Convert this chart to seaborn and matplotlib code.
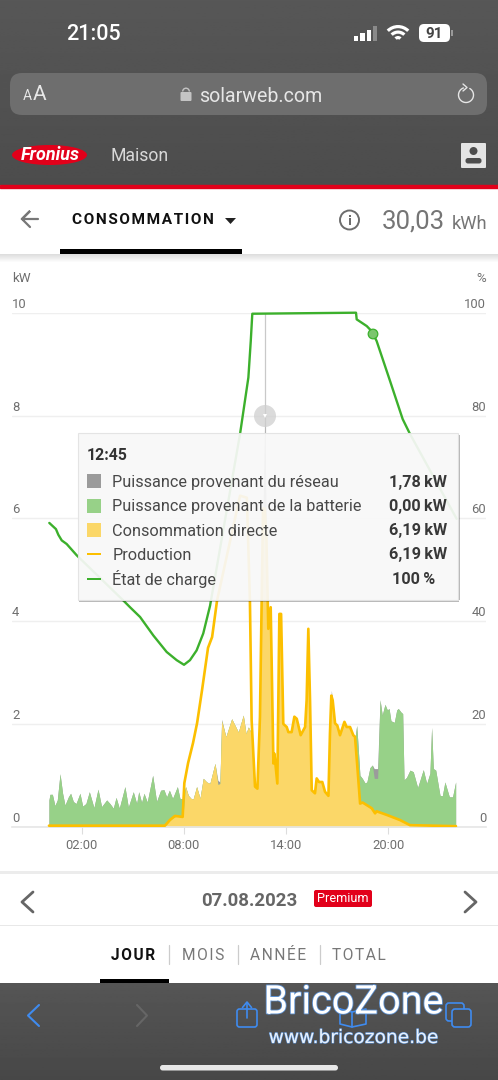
import numpy as np
import pandas as pd
import matplotlib
matplotlib.use("Agg")
import matplotlib.pyplot as plt
import matplotlib.patheffects as pe
from matplotlib.patches import Rectangle, FancyBboxPatch, Circle, Ellipse, Polygon, Wedge
from matplotlib.transforms import ScaledTranslation
import seaborn as sns

# Load profile, one block per part of the day (hours, kW)
night_hours = [0.08,0.14,0.28,0.43,0.57,0.73,0.88,1.02,1.22,1.35,1.51,1.67,1.90,2.06,2.25,2.45,2.72,2.96,3.17,3.47,3.66,3.86,4.02,4.21,4.54,4.74,5.03,5.23,5.35,5.52,5.66,5.85,6.17,6.40,6.64,6.83]
night_load = [0.52,0.63,0.63,0.41,0.52,1.03,0.65,0.42,0.58,0.65,0.49,0.45,0.65,0.40,0.45,0.68,0.37,0.73,0.39,0.52,0.45,0.36,0.57,0.36,0.78,0.38,0.68,0.45,0.68,0.47,0.65,0.48,1.00,0.49,0.71,0.72]

dawn_hours = [6.99,7.15,7.34,7.62,7.77,7.95]
dawn_load = [0.58,0.71,0.55,0.78,0.55,0.54]
dawn_direct = [0.05,0.11,0.17,0.21,0.20,0.22]

day_hours = [8.10,8.26,8.42,8.55,8.75,8.95,9.14,9.34,9.53,9.83,10.00,10.12,10.22,10.47,10.81,11.20,11.49,11.65,11.79,11.93,11.98,12.18,12.32,12.47,12.57,12.65,12.75,12.85,12.96,13.10,13.26,13.32,13.49,13.61,13.71,13.84,14.04,14.14,14.33,14.49,14.63,14.86,15.12,15.21,15.31,15.41,15.51,15.70,15.80,15.94,16.13,16.29,16.49,16.58,16.66,16.74,16.88,17.01,17.17,17.43,17.56,17.76,17.95,18.05]
day_load = [0.78,0.61,0.55,0.54,0.78,0.55,0.94,0.87,0.84,1.23,0.90,0.87,2.09,1.75,2.10,1.84,2.17,1.81,1.94,1.84,2.07,0.78,0.74,2.14,4.40,6.19,7.97,5.60,3.85,4.27,1.23,1.42,0.84,4.14,4.14,2.00,1.94,1.84,1.84,2.14,2.10,1.78,1.94,2.46,3.85,2.46,0.71,0.65,0.94,0.87,0.87,0.68,0.60,1.81,2.65,2.46,2.01,1.97,1.78,2.04,1.94,1.94,1.78,1.72]
day_grid = [0.0]*10 + [0.08,0.03,0.03] + [0.0]*13 + [1.78] + [0.0]*27 + [0.10] + [0.0]*9

evening_hours = [18.15,18.21,18.34,18.48,18.64,18.75,18.93,19.07,19.18,19.38,19.52,19.65,19.81,19.95,20.05,20.16,20.36,20.50,20.59,20.75,20.85,20.93,21.08,21.28,21.47,21.73,22.06,22.26,22.45,22.55,22.65,22.79,23.04,23.18,23.33,23.59,23.78,23.96]
evening_load = [1.97,1.68,1.00,0.94,0.85,0.87,1.15,1.20,1.13,1.13,2.47,2.17,2.38,2.27,2.30,2.06,2.03,2.27,2.30,2.23,2.20,0.91,0.96,1.10,1.07,0.76,1.11,0.84,1.04,1.93,1.13,1.10,0.61,0.60,0.87,0.58,0.58,0.87]
evening_direct = [1.45,1.05,0.47,0.47,0.43,0.41,0.38,0.35,0.28,0.29,0.28,0.27,0.25,0.23,0.21,0.20,0.17,0.15,0.14,0.12,0.10,0.09,0.06,0.03,0.01,0.01,0.01,0.01,0.01,0.01,0.01,0.01,0.01,0.01,0.01,0.01,0.01,0.01]
evening_grid = [0.0]*8 + [0.19,0.19] + [0.0]*28

# PV production (kW)
prod_hours = [0.08,6.89,7.18,7.48,7.93,8.03,8.25,8.54,8.78,9.07,9.42,9.66,9.95,11.30,11.70,11.88,11.98,12.18,12.32,12.47,12.57,12.65,12.75,12.85,12.96,13.10,13.26,13.32,13.49,13.61,13.71,13.84,14.04,14.14,14.33,14.49,14.63,14.86,15.12,15.21,15.31,15.41,15.51,15.70,15.80,15.94,16.13,16.29,16.49,16.58,16.66,16.74,16.88,17.01,17.17,17.43,17.56,17.76,17.95,18.05,18.19,18.35,18.50,19.03,19.23,19.32,19.91,20.69,21.28,23.98]
prod_kw = [0.02,0.02,0.13,0.21,0.19,0.85,1.24,1.63,2.02,2.66,3.48,3.69,4.40,6.44,6.40,4.40,2.07,0.78,0.74,2.14,4.40,6.19,6.19,5.60,3.85,4.27,1.23,1.42,0.84,4.14,4.14,2.00,1.94,1.84,1.84,2.14,2.10,1.78,1.94,2.46,3.85,2.46,0.71,0.65,0.94,0.87,0.87,0.68,0.60,1.81,2.55,2.46,2.01,1.97,1.78,2.04,1.94,1.94,1.78,1.75,1.16,0.45,0.47,0.36,0.26,0.30,0.23,0.13,0.03,0.01]

# Battery state of charge (%)
soc_hours = [0.10,0.49,0.63,0.83,1.12,1.71,4.45,4.84,5.43,6.21,6.99,7.58,8.01,8.36,8.75,9.14,9.54,11.30,11.79,11.93,12.02,18.11,18.15,18.74,19.03,19.32,20.10,20.85,21.28,24.02]
soc_pct = [59.1,57.9,56.8,55.7,55.0,52.8,44.0,42.7,40.8,37.2,34.0,32.4,31.5,32.4,34.3,37.6,43.0,76.4,87.4,94.5,99.8,100,98.7,97.4,96.4,94.5,86.8,79.3,76.4,59.9]

# Tooltip and axis labels
tick_hours = [2, 8, 14, 20]
tick_names = ["02:00", "08:00", "14:00", "20:00"]
kw_ticks = [0, 2, 4, 6, 8, 10]
pct_ticks = [0, 20, 40, 60, 80, 100]
tip_time = "12:45"
tip_hour = 12.75
tip_names = ["Puissance provenant du réseau", "Puissance provenant de la batterie", "Consommation directe", "Production", "État de charge"]
tip_values = ["1,78 kW", "0,00 kW", "6,19 kW", "6,19 kW", "100 %"]

C_GRID, C_BATT, C_DIRECT = "#9b9b9b", "#97d188", "#fbd768"
C_PROD, C_SOC = "#fcbf00", "#3cb02c"
C_TEXT = "#6f6f6f"

sns.set_theme(style="white")
plt.rcParams["font.family"] = ["Roboto", "DejaVu Sans"]

W, H = 498, 1080
fig = plt.figure(figsize=(W / 100, H / 100), dpi=100, facecolor="white")


def px_axes(z):
    a = fig.add_axes([0, 0, 1, 1], zorder=z)
    a.set_xlim(0, W)
    a.set_ylim(H, 0)
    a.axis("off")
    a.patch.set_alpha(0)
    return a


bg = px_axes(0)
top = px_axes(5)

# Page chrome under the chart
bg.imshow(np.linspace(0.34, 0.30, 64).reshape(-1, 1), extent=[0, W, 185, 0], cmap="gray", vmin=0, vmax=1, aspect="auto")
bg.imshow(np.linspace(0.335, 0.28, 64).reshape(-1, 1), extent=[0, W, 1080, 983], cmap="gray", vmin=0, vmax=1, aspect="auto")
bg.set_xlim(0, W)
bg.set_ylim(H, 0)
bg.add_patch(Rectangle((0, 185), W, 2.5, color="#e2001a"))
bg.add_patch(FancyBboxPatch((10, 73), 477, 42, boxstyle="round,pad=0,rounding_size=12", fc="#6e6e6e", ec="none"))
for i, yy in enumerate(np.arange(254, 262)):
    bg.add_patch(Rectangle((0, yy), W, 1, color="#000000", alpha=0.13 * (1 - i / 8), lw=0))

bg.text(93, 35, "21:05", color="white", fontsize=15.5, fontweight="medium", ha="center", va="center")
for i, hh in enumerate([5, 8, 11.5, 15]):
    bg.add_patch(Rectangle((354 + i * 6.3, 41 - hh), 4.2, hh, color="white" if i < 3 else "#8a8a8a", lw=0))
for r in [5, 10.5, 16]:
    bg.add_patch(Wedge((398, 41), r, 225, 315, width=3.2, color="white", lw=0))
bg.add_patch(FancyBboxPatch((419, 24), 31, 18, boxstyle="round,pad=0,rounding_size=5", fc="white", ec="none"))
bg.add_patch(Rectangle((451, 30), 2, 6, color="#999999", lw=0))
bg.text(434.5, 34, "91", color="#444444", fontsize=11, fontweight="bold", ha="center", va="center")

bg.text(23, 96.5, "A", color="#e8e8e8", fontsize=10, ha="left", va="center")
bg.text(33, 95, "A", color="#e8e8e8", fontsize=15, ha="left", va="center")
bg.add_patch(FancyBboxPatch((180.5, 92), 11, 9, boxstyle="round,pad=0,rounding_size=1", fc="#c4c4c4", ec="none"))
bg.add_patch(Wedge((186, 91.5), 4, 180, 360, width=1.4, color="#c4c4c4", lw=0))
bg.text(199, 96, "solarweb.com", color="#e6e6e6", fontsize=14.1, ha="left", va="center")
theta = np.radians(np.linspace(-60, 250, 50))
bg.plot(466 + 7.5 * np.cos(theta), 95 + 7.5 * np.sin(theta), color="#e6e6e6", lw=1)
bg.plot([463, 467, 463], [84, 87.5, 91], color="#e6e6e6", lw=1)

bg.add_patch(Ellipse((49.5, 155), 75, 20, color="#e2001a", lw=0))
bg.text(50, 155.5, "Fronius", color="white", fontsize=13, style="italic", fontweight="bold", ha="center", va="center")
bg.text(110, 156, "Maison", color="#d8d8d8", fontsize=12.7, ha="left", va="center")
bg.add_patch(FancyBboxPatch((461, 143), 25, 25, boxstyle="round,pad=0,rounding_size=1", fc="#e4e4e4", ec="none"))
bg.add_patch(Circle((473.5, 151), 4, color="#4d4d4d", lw=0))
bg.add_patch(FancyBboxPatch((465.5, 158), 16, 5.5, boxstyle="round,pad=0,rounding_size=2.5", fc="#4d4d4d", ec="none"))

bg.plot([38, 22, 30, 22, 30], [219, 219, 211, 219, 227], color="#777777", lw=1.6, solid_joinstyle="miter")
bg.text(72, 220.5, "\u200a".join("CONSOMMATION"), color="#111111", fontsize=11.1, fontweight="bold", ha="left", va="center")
bg.add_patch(Polygon([[225, 218], [236, 218], [230.5, 224]], color="#222222", lw=0))
bg.add_patch(Rectangle((60, 249), 182, 5, color="black", lw=0))
bg.add_patch(Circle((349.5, 220), 9.5, fc="none", ec="#6d6d6d", lw=1.4))
bg.add_patch(Rectangle((348.5, 218), 2.2, 7, color="#6d6d6d", lw=0))
bg.add_patch(Rectangle((348.5, 214.5), 2.2, 2, color="#6d6d6d", lw=0))
bg.text(382, 222, "30,03", color="#757575", fontsize=18.5, ha="left", va="center")
bg.text(452, 224, "kWh", color="#757575", fontsize=13.2, ha="left", va="center")
bg.text(12, 278.5, "kW", color=C_TEXT, fontsize=9.6, ha="left", va="center")
bg.text(486, 278.5, "%", color=C_TEXT, fontsize=9.6, ha="right", va="center")

# Date and period selectors
bg.add_patch(Rectangle((0, 871), W, 2.5, color="#ececec", lw=0))
bg.add_patch(Rectangle((0, 925), W, 1.2, color="#e8e8e8", lw=0))
bg.plot([33, 22, 33], [892, 902, 912], color="#666666", lw=2)
bg.plot([465, 476, 465], [892, 902, 912], color="#666666", lw=2)
bg.text(249, 901.5, "07.08.2023", color="#666666", fontsize=13.4, fontweight="bold", ha="center", va="center")
bg.add_patch(FancyBboxPatch((314, 890), 58, 17, boxstyle="round,pad=0,rounding_size=2", fc="#e2001a", ec="none"))
bg.text(343, 898.5, "Premium", color="white", fontsize=9.2, ha="center", va="center")
for x0, label, col, wt in [(133.5, "JOUR", "#111111", "bold"), (203.5, "MOIS", "#777777", "normal"), (278, "ANNÉE", "#777777", "normal"), (358.5, "TOTAL", "#777777", "normal")]:
    bg.text(x0, 955.5, "\u200a".join(label), color=col, fontsize=11.2, fontweight=wt, ha="center", va="center")
for xx in [169, 237.5, 319.5]:
    bg.plot([xx, xx], [945, 964], color="#cccccc", lw=0.9)
bg.add_patch(Rectangle((99.5, 979), 69, 4, color="black", lw=0))

# Browser toolbar
blue = "#3f8bef"
bg.plot([39, 28, 39], [1005, 1015.5, 1026], color=blue, lw=1.5)
bg.plot([137, 147, 137], [1005, 1015.5, 1026], color="#666666", lw=1.5)
bg.add_patch(FancyBboxPatch((237, 1009), 20, 18, boxstyle="round,pad=0,rounding_size=2.5", fc="none", ec=blue, lw=1.2))
bg.plot([247, 247], [1003, 1018], color=blue, lw=1.2)
bg.plot([242.5, 247, 251.5], [1007.5, 1002, 1007.5], color=blue, lw=1.2)
bg.plot([340, 340, 352, 366, 366, 352, 340], [1009, 1024, 1027, 1024, 1009, 1012, 1009], color=blue, lw=1.2)
bg.plot([352, 352], [1012, 1027], color=blue, lw=1.2)
bg.add_patch(FancyBboxPatch((446, 1003), 18, 18, boxstyle="round,pad=0,rounding_size=3", fc="none", ec=blue, lw=1.2))
bg.add_patch(FancyBboxPatch((452, 1009), 19, 18, boxstyle="round,pad=0,rounding_size=3", fc="#4c4c4c", ec=blue, lw=1.2))
bg.add_patch(FancyBboxPatch((160, 1065), 178, 5.5, boxstyle="round,pad=0,rounding_size=2.7", fc="#e8e8e8", ec="none"))

# Chart area: 0–10 kW on the left, 0–100 % on the right
x_left = (12 - 47.6) / 17.03
x_right = (486 - 47.6) / 17.03
ax = fig.add_axes([12 / W, 1 - 826.7 / H, 474 / W, 514 / H], zorder=2)
ax.patch.set_alpha(0)

hours = np.array(night_hours + dawn_hours + day_hours + evening_hours)
load = np.array(night_load + dawn_load + day_load + evening_load)
grid = np.array([0.0] * len(night_hours + dawn_hours) + day_grid + evening_grid)
direct = np.concatenate([np.zeros(len(night_hours)), dawn_direct, np.array(day_load) - np.array(day_grid), evening_direct])
to_battery = load - grid

ax.axvline(tip_hour, color="#c9c9c9", lw=0.9, zorder=1.5)
ax.fill_between(hours, 0, load, color=C_GRID, lw=0, zorder=2)
ax.fill_between(hours, 0, to_battery, color=C_BATT, lw=0, zorder=2.1)
ax.fill_between(hours, 0, direct, color=C_DIRECT, lw=0, zorder=2.2)

prod_df = pd.DataFrame({"heure": prod_hours, "kW": prod_kw})
sns.lineplot(data=prod_df, x="heure", y="kW", ax=ax, color=C_PROD, lw=1.9, estimator=None, zorder=3)

ax.set_xlim(x_left, x_right)
ax.set_ylim(0, 10)
ax.set_xticks(tick_hours, tick_names)
ax.set_yticks(kw_ticks, [str(v) for v in kw_ticks])
ax.set_xlabel("")
ax.set_ylabel("")
ax.grid(axis="y", color="#efefef", lw=1)
ax.set_axisbelow(True)
for s in ["top", "left", "right"]:
    ax.spines[s].set_visible(False)
ax.spines["bottom"].set_color("#e6e6e6")
ax.spines["bottom"].set_linewidth(1.2)
ax.tick_params(axis="x", length=5, width=0.8, color="#dddddd", labelcolor=C_TEXT, labelsize=9.4, pad=3.5, bottom=True)
ax.tick_params(axis="y", length=0, labelcolor=C_TEXT, labelsize=9.4, pad=0)

# Value labels sit just above their gridline
lift = ScaledTranslation(0, 2 / 100, fig.dpi_scale_trans)
for lab in ax.get_yticklabels():
    lab.set_horizontalalignment("left")
    lab.set_verticalalignment("bottom")
    lab.set_transform(lab.get_transform() + lift)

twin = ax.twinx()
twin.set_zorder(3)
twin.patch.set_alpha(0)
soc_df = pd.DataFrame({"heure": soc_hours, "pct": soc_pct})
sns.lineplot(data=soc_df, x="heure", y="pct", ax=twin, color=C_SOC, lw=1.7, estimator=None, clip_on=False)
twin.set_ylim(0, 100)
twin.set_yticks(pct_ticks, [str(v) for v in pct_ticks])
twin.set_ylabel("")
twin.grid(False)
for s in twin.spines.values():
    s.set_visible(False)
twin.tick_params(axis="y", length=0, labelcolor=C_TEXT, labelsize=9.4, pad=0)
for lab in twin.get_yticklabels():
    lab.set_horizontalalignment("right")
    lab.set_verticalalignment("bottom")
    lab.set_transform(lab.get_transform() + lift)

# Hover markers on the curves
top.add_patch(Circle((265.0, 416), 11, fc="#cfcfcf", ec="none", alpha=0.75))
top.add_patch(Polygon([[263, 414], [267, 414], [265, 418]], color="white", lw=0))
top.add_patch(Circle((373, 334), 4.8, fc="#7cc66e", ec=C_SOC, lw=0.9))

# Tooltip
top.add_patch(Rectangle((79, 600), 380, 2.2, color="#000000", alpha=0.28, lw=0))
top.add_patch(Rectangle((458, 435), 1.8, 165, color="#000000", alpha=0.28, lw=0))
top.add_patch(Rectangle((78, 433), 380, 167, fc="#f8f8f8", ec="#e3e3e3", lw=0.8, alpha=0.93))
top.text(87, 455, tip_time, color="#333333", fontsize=11.4, fontweight="bold", ha="left", va="center")
rows_y = [481, 505.5, 530, 554, 578.5]
for i, (name, val, yy) in enumerate(zip(tip_names, tip_values, rows_y)):
    top.text(112.5, yy + 1, name, color="#484848", fontsize=11.7, ha="left", va="center")
    xr = 447 if i < 4 else 435.5
    top.text(xr, yy + 1, val.replace(" ", "\u2009"), color="#383838", fontsize=11.7, fontweight="bold", ha="right", va="center")
for yy, col in zip(rows_y[:3], [C_GRID, C_BATT, C_DIRECT]):
    top.add_patch(Rectangle((87, yy - 7), 14, 14, color=col, lw=0))
top.add_patch(Rectangle((87, rows_y[3] - 1), 14, 2, color=C_PROD, lw=0))
top.add_patch(Rectangle((87, rows_y[4] - 1), 14, 2, color=C_SOC, lw=0))

# Site watermark over the toolbar
halo = [pe.withStroke(linewidth=1.2, foreground="#5b8fd0")]
top.text(353.5, 1002, "BricoZone", color="white", fontsize=28.5, ha="center", va="center", path_effects=halo)
top.text(353.5, 1037.5, "www.bricozone.be", color="#e8f1fc", fontsize=13.4, family=["DejaVu Sans"], ha="center", va="center", path_effects=[pe.withStroke(linewidth=0.8, foreground="#5b8fd0")])

fig.savefig("out.png", dpi=100)
